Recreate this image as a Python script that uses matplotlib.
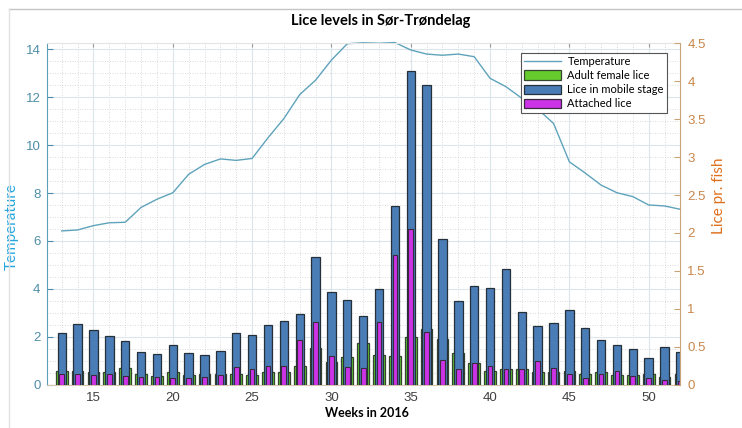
import matplotlib
matplotlib.use("Agg")
import matplotlib.pyplot as plt
from matplotlib.lines import Line2D
from matplotlib.patches import Patch
from matplotlib.ticker import MultipleLocator

# Weekly data, 2016
weeks = list(range(13, 53))

temperature = [6.42, 6.46, 6.64, 6.76, 6.78, 7.40, 7.74, 8.01, 8.78, 9.19,
               9.42, 9.36, 9.44, 10.3, 11.1, 12.1, 12.7, 13.54, 14.22, 14.26,
               14.24, 14.27, 13.96, 13.79, 13.74, 13.79, 13.68, 12.78, 12.43, 11.95,
               11.5, 10.9, 9.3, 8.83, 8.33, 8.01, 7.85, 7.5, 7.46, 7.32]

adult_female = [0.185, 0.19, 0.165, 0.17, 0.225, 0.145, 0.12, 0.165, 0.13, 0.145,
                0.145, 0.15, 0.13, 0.165, 0.17, 0.25, 0.49, 0.30, 0.37, 0.555,
                0.395, 0.38, 0.635, 0.735, 0.605, 0.425, 0.285, 0.19, 0.215, 0.215,
                0.165, 0.17, 0.18, 0.15, 0.165, 0.13, 0.13, 0.15, 0.11, 0.15]

mobile = [0.69, 0.80, 0.72, 0.645, 0.575, 0.44, 0.41, 0.52, 0.425, 0.39,
          0.45, 0.69, 0.66, 0.785, 0.84, 0.93, 1.69, 1.22, 1.12, 0.91,
          1.26, 2.355, 4.13, 3.95, 1.925, 1.10, 1.30, 1.27, 1.52, 0.955,
          0.78, 0.815, 0.99, 0.745, 0.59, 0.52, 0.48, 0.36, 0.495, 0.44]

attached = [0.15, 0.145, 0.13, 0.15, 0.12, 0.10, 0.11, 0.09, 0.095, 0.10,
            0.13, 0.24, 0.215, 0.25, 0.25, 0.59, 0.825, 0.38, 0.24, 0.22,
            0.825, 1.705, 2.05, 0.70, 0.33, 0.215, 0.295, 0.25, 0.215, 0.215,
            0.315, 0.23, 0.15, 0.09, 0.14, 0.19, 0.12, 0.095, 0.065, 0.05]

week_ticks = [15, 20, 25, 30, 35, 40, 45, 50]

# colours
temp_line = '#5ea3bb'
left_col = '#4f8ea6'
left_label = '#22a6df'
right_col = '#c8864a'
right_label = '#e0701c'
green = '#66cc2e'
blue = '#4a7cb5'
magenta = '#cc33e6'

plt.rcParams['font.family'] = ['Liberation Sans', 'DejaVu Sans']

fig = plt.figure(figsize=(7.42, 4.28), dpi=100)
ax = fig.add_axes([0.064, 0.1005, 0.853, 0.799])
ax2 = ax.twinx()

# temperature on the left axis
ax.plot(weeks, temperature, color=temp_line, lw=1.0, clip_on=False)
ax.set_xlim(12.1, 52)
ax.set_ylim(0, 14.25)
ax.set_yticks(range(0, 15, 2))
ax.set_xticks(week_ticks)
ax.xaxis.set_minor_locator(MultipleLocator(1))
ax.yaxis.set_minor_locator(MultipleLocator(0.5))
ax.grid(which='major', color='#dbe6ec', lw=0.8)
ax.grid(which='minor', color='#cfcfcf', lw=0.6, linestyle=(0, (1, 2)))
ax.set_axisbelow(True)
ax.tick_params(axis='y', which='major', direction='in', length=4, colors=left_col,
               labelsize=9.5, pad=5)
ax.tick_params(axis='y', which='minor', length=0)
ax.tick_params(axis='x', which='major', direction='in', length=3, top=True,
               colors='#9a9a9a', labelcolor='#404040', labelsize=9.5, pad=5)
ax.tick_params(axis='x', which='minor', length=0)
ax.set_ylabel('Temperature', color=left_label, fontsize=11, family='Lato')
ax.yaxis.set_label_coords(-0.046, 0.462)
ax.spines['left'].set_color('#5aa0b8')
ax.spines['right'].set_visible(False)
ax.spines['bottom'].set_color('#d6c6ae')
ax.spines['top'].set_color('#e4e4e4')

# lice counts on the right axis, overlapping bars
ax2.bar(weeks, adult_female, width=0.74, color=green, edgecolor='#35452f', lw=0.9)
ax2.bar(weeks, mobile, width=0.53, color=blue, edgecolor='#26303b', lw=0.9)
ax2.bar(weeks, attached, width=0.3, color=magenta, edgecolor='#3a2a40', lw=0.8)
ax2.set_ylim(0, 4.5)
ax2.set_yticks([0, 0.5, 1, 1.5, 2, 2.5, 3, 3.5, 4, 4.5])
ax2.set_yticklabels(['0', '0.5', '1', '1.5', '2', '2.5', '3', '3.5', '4', '4.5'])
ax2.tick_params(axis='y', direction='in', length=4, colors='#c9a47a',
                labelcolor=right_col, labelsize=9.5, pad=5)
ax2.set_ylabel('Lice pr. fish', color=right_label, fontsize=11, family='Lato')
ax2.yaxis.set_label_coords(1.050, 0.553)
ax2.spines['right'].set_color('#c9a47a')
for side in ('left', 'top', 'bottom'):
    ax2.spines[side].set_visible(False)

handles = [
    Line2D([], [], color=temp_line, lw=1.0),
    Patch(facecolor=green, edgecolor='#35452f', lw=0.9),
    Patch(facecolor=blue, edgecolor='#26303b', lw=0.9),
    Patch(facecolor=magenta, edgecolor='#3a2a40', lw=0.9),
]
labels = ['Temperature', 'Adult female lice', 'Lice in mobile stage', 'Attached lice']
leg = ax2.legend(handles, labels, loc='upper right', bbox_to_anchor=(0.979, 0.972),
                 fancybox=False, framealpha=1, edgecolor='#555555',
                 prop={'family': 'Lato', 'size': 8}, handlelength=3.3,
                 handleheight=0.95, labelspacing=0.28, borderpad=0.3,
                 handletextpad=0.6, borderaxespad=0)
leg.get_frame().set_linewidth(0.8)

fig.text(0.513, 0.952, 'Lice levels in Sør-Trøndelag', ha='center', va='center',
         fontsize=10.5, fontweight='bold', family='Lato')
fig.text(0.495, 0.035, 'Weeks in 2016', ha='center', va='center',
         fontsize=9, fontweight='bold', family='Lato')

# thin frame along the top and left edge
fig.add_artist(Line2D([9 / 742, 1], [1 - 9 / 428, 1 - 9 / 428], color='#c4c4c4', lw=1))
fig.add_artist(Line2D([9 / 742, 9 / 742], [0, 1 - 9 / 428], color='#e2e2e2', lw=1))

fig.savefig('out.png', dpi=100)
